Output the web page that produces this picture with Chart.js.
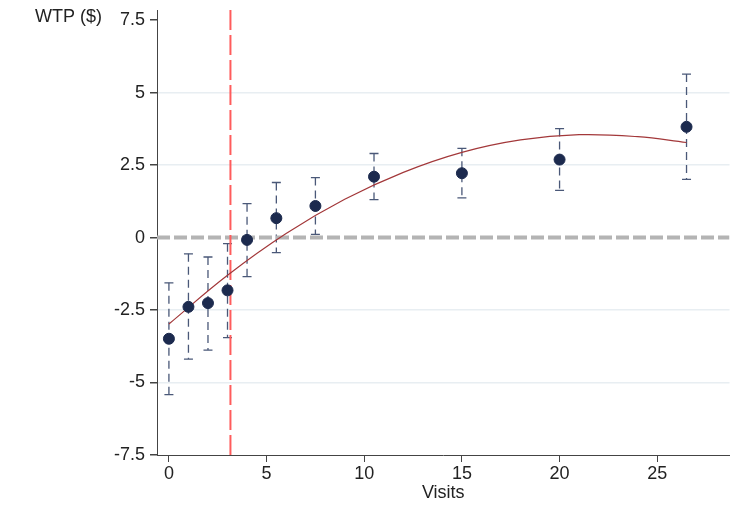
<!DOCTYPE html>
<html>
<head>
<meta charset="utf-8">
<title>WTP by visits</title>
<script src="https://cdn.jsdelivr.net/npm/chart.js"></script>
<style>
    body { margin: 0; background: #fff; }
    #wrap { width: 736px; height: 529px; }
</style>
</head>
<body>
<div id="wrap"><canvas id="wtp-chart" width="736" height="529"></canvas></div>
<script>
"use strict";

// Data
var visits = [0, 1, 2, 3, 4, 5.5, 7.5, 10.5, 15, 20, 26.5];
var wtpMean = [-3.49, -2.39, -2.26, -1.82, -0.08, 0.67, 1.09, 2.10, 2.22, 2.69, 3.82];
var wtpLow = [-5.42, -4.19, -3.88, -3.45, -1.35, -0.52, 0.11, 1.31, 1.37, 1.63, 2.01];
var wtpHigh = [-1.56, -0.56, -0.67, -0.21, 1.17, 1.90, 2.07, 2.90, 3.08, 3.76, 5.64];

// Fitted curve, read at a few points along the red line
var fitVisits = [0, 3, 6, 9, 12, 15, 18, 21, 24, 26.5];
var fitWtp = [-2.98, -1.30, 0.14, 1.32, 2.25, 2.94, 3.37, 3.55, 3.48, 3.28];

var cutoffVisits = 3.15;
var xTicks = [0, 5, 10, 15, 20, 25];
var yTicks = [-7.5, -5, -2.5, 0, 2.5, 5, 7.5];
var xMin = -0.61, xMax = 28.7;
var yMin = -7.5, yMax = 7.85;

var fontFamily = '"Liberation Sans", Arial, sans-serif';
var textColor = '#222222';

// Dashed error bars with caps
var errorBarPlugin = {
    id: 'errorBars',
    beforeDatasetsDraw: function (chart) {
        var ctx = chart.ctx;
        var xs = chart.scales.x, ys = chart.scales.y;
        ctx.save();
        ctx.strokeStyle = '#4a5878';
        ctx.lineWidth = 1.3;
        for (var i = 0; i < visits.length; i++) {
            var px = xs.getPixelForValue(visits[i]);
            var top = ys.getPixelForValue(wtpHigh[i]);
            var bot = ys.getPixelForValue(wtpLow[i]);
            ctx.setLineDash([8, 5]);
            ctx.beginPath();
            ctx.moveTo(px, top);
            ctx.lineTo(px, bot);
            ctx.stroke();
            ctx.setLineDash([]);
            ctx.beginPath();
            ctx.moveTo(px - 4.5, top);
            ctx.lineTo(px + 4.5, top);
            ctx.moveTo(px - 4.5, bot);
            ctx.lineTo(px + 4.5, bot);
            ctx.stroke();
        }
        ctx.restore();
    }
};

// Y axis caption in the top-left corner
var yCaptionPlugin = {
    id: 'yCaption',
    afterDraw: function (chart) {
        var ctx = chart.ctx;
        ctx.save();
        ctx.font = '18px ' + fontFamily;
        ctx.fillStyle = textColor;
        ctx.textAlign = 'left';
        ctx.textBaseline = 'alphabetic';
        ctx.fillText('WTP ($)', 35, 22);
        ctx.restore();
    }
};

var canvas = document.getElementById('wtp-chart');
if (canvas) {
    var ctx = canvas.getContext('2d');
    new Chart(ctx, {
        type: 'scatter',
        data: {
            datasets: [{
                label: 'Mean WTP',
                data: visits.map(function (v, i) { return { x: v, y: wtpMean[i] }; }),
                backgroundColor: '#1c2a4e',
                borderColor: '#1c2a4e',
                pointRadius: 5.5,
                showLine: false
            },
            {
                label: 'Fit',
                type: 'line',
                data: fitVisits.map(function (v, i) { return { x: v, y: fitWtp[i] }; }),
                borderColor: '#a3383a',
                borderWidth: 1.2,
                pointRadius: 0,
                tension: 0.4,
                fill: false
            },
            {
                label: 'Cutoff',
                type: 'line',
                data: [{ x: cutoffVisits, y: yMin }, { x: cutoffVisits, y: yMax }],
                borderColor: '#ff5c5c',
                borderWidth: 2,
                borderDash: [20, 5],
                pointRadius: 0,
                fill: false
            },
            {
                label: 'Zero',
                type: 'line',
                data: [{ x: xMin, y: 0 }, { x: xMax, y: 0 }],
                borderColor: '#b4b4b4',
                borderWidth: 4,
                borderDash: [13, 4],
                pointRadius: 0,
                fill: false
            }
            ]
        },
        options: {
            responsive: false,
            animation: false,
            devicePixelRatio: 1,
            layout: { padding: { left: 0, right: 6, top: 10, bottom: 0 } },
            plugins: {
                legend: { display: false },
                tooltip: { enabled: false }
            },
            scales: {
                x: {
                    type: 'linear',
                    min: xMin,
                    max: xMax,
                    afterBuildTicks: function (scale) {
                        scale.ticks = xTicks.map(function (v) { return { value: v }; });
                    },
                    afterFit: function (scale) {
                        scale.height = 74;
                        scale.paddingLeft = 0;
                        scale.paddingRight = 0;
                    },
                    border: { display: true, color: '#444444', width: 1 },
                    grid: { drawOnChartArea: false, drawTicks: true, tickLength: 7, tickColor: '#444444' },
                    ticks: {
                        color: textColor,
                        padding: 1,
                        maxRotation: 0,
                        font: { family: fontFamily, size: 18 }
                    },
                    title: {
                        display: true,
                        text: 'Visits',
                        color: textColor,
                        padding: { top: 0, bottom: 25 },
                        font: { family: fontFamily, size: 18 }
                    }
                },
                y: {
                    type: 'linear',
                    min: yMin,
                    max: yMax,
                    afterBuildTicks: function (scale) {
                        scale.ticks = yTicks.map(function (v) { return { value: v }; });
                    },
                    afterFit: function (scale) {
                        scale.width = 157;
                        scale.paddingTop = 0;
                        scale.paddingBottom = 0;
                    },
                    border: { display: true, color: '#444444', width: 1 },
                    grid: {
                        drawTicks: true,
                        tickLength: 7,
                        tickColor: '#444444',
                        lineWidth: 1.5,
                        color: function (c) {
                            var v = c.tick ? c.tick.value : null;
                            if (v === -7.5 || v === 0 || v === 7.5) return 'rgba(0,0,0,0)';
                            return '#e8eef2';
                        }
                    },
                    ticks: {
                        color: textColor,
                        padding: 5,
                        font: { family: fontFamily, size: 18 }
                    }
                }
            }
        },
        plugins: [errorBarPlugin, yCaptionPlugin]
    });
} else {
    console.warn("Canvas element with id 'wtp-chart' not found, skipping chart initialization.");
}
</script>
</body>
</html>
